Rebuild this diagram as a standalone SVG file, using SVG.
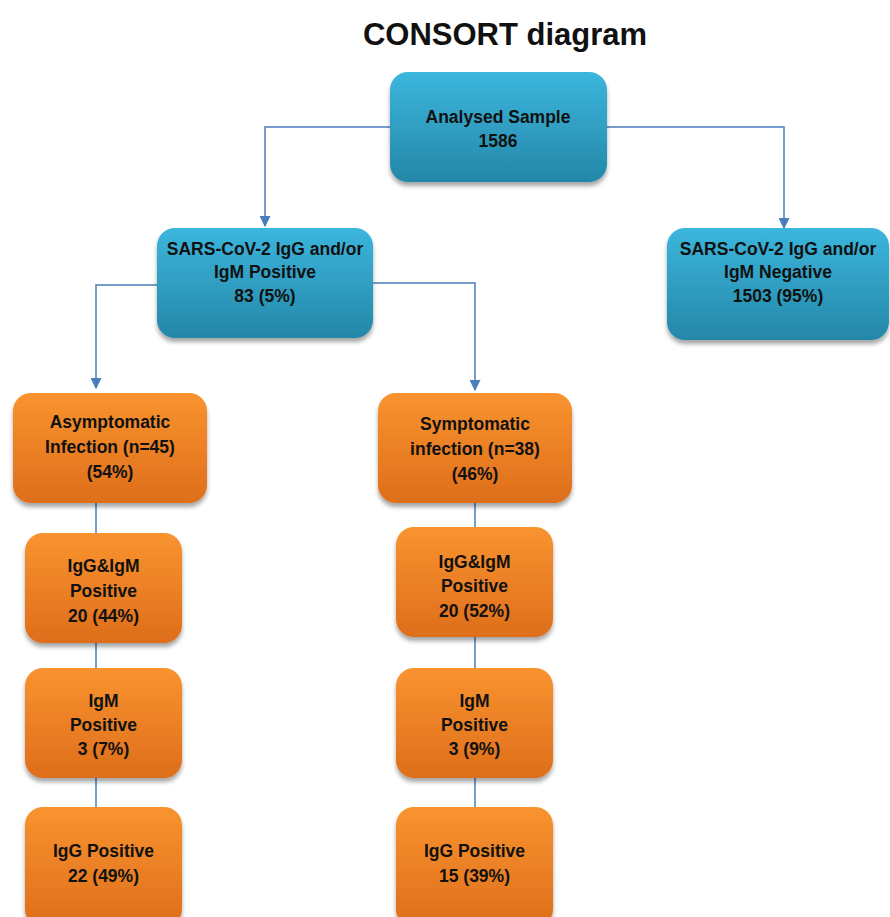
<svg xmlns="http://www.w3.org/2000/svg" width="890" height="917" viewBox="0 0 890 917">
<defs>
<linearGradient id="gb" x1="0" y1="0" x2="0" y2="1">
<stop offset="0" stop-color="#3CB6DD"/><stop offset="1" stop-color="#2487A8"/>
</linearGradient>
<linearGradient id="go" x1="0" y1="0" x2="0" y2="1">
<stop offset="0" stop-color="#F9932F"/><stop offset="1" stop-color="#DE6E1B"/>
</linearGradient>
<filter id="sh" x="-10%" y="-10%" width="120%" height="130%">
<feDropShadow dx="0" dy="4" stdDeviation="2" flood-color="#000" flood-opacity="0.35"/>
</filter>
<marker id="ar" viewBox="0 0 10 10" refX="9" refY="5" markerWidth="11" markerHeight="11" markerUnits="userSpaceOnUse" orient="auto">
<path d="M0,0 L10,5 L0,10 z" fill="#4A7EBB"/>
</marker>
<style>
.b{fill:url(#gb);filter:url(#sh)}
.o{fill:url(#go);filter:url(#sh)}
text{font-family:"Liberation Sans",Arial,sans-serif;font-weight:bold;font-size:17.5px;fill:#111;text-anchor:middle}
.t{font-size:31px}
.c{fill:none;stroke:#4A7EBB;stroke-width:1.5}
</style>
</defs>
<text class="t" x="505" y="45">CONSORT diagram</text>
<g id="connectors">
<path class="c" d="M390,127 H265 V226" marker-end="url(#ar)"/>
<path class="c" d="M607,127 H784 V228" marker-end="url(#ar)"/>
<path class="c" d="M157,285 H96 V388" marker-end="url(#ar)"/>
<path class="c" d="M373,283 H475 V390" marker-end="url(#ar)"/>
<path class="c" d="M96,503 V533 M96,643 V668 M96,778 V807"/>
<path class="c" d="M475,503 V527 M475,637 V668 M475,778 V807"/>
</g>
<g id="n1"><rect class="b" x="390" y="72" width="217" height="110" rx="18"/>
<text x="498" y="123">Analysed Sample</text><text x="498" y="147">1586</text></g>
<g id="n2"><rect class="b" x="157" y="228" width="216" height="110" rx="18"/>
<text x="265" y="255">SARS-CoV-2 IgG and/or</text><text x="265" y="278">IgM Positive</text><text x="265" y="302">83 (5%)</text></g>
<g id="n3"><rect class="b" x="667" y="228" width="222" height="112" rx="18"/>
<text x="778" y="255">SARS-CoV-2 IgG and/or</text><text x="778" y="278">IgM Negative</text><text x="778" y="302">1503 (95%)</text></g>
<g id="n4"><rect class="o" x="13" y="393" width="194" height="110" rx="18"/>
<text x="110" y="428">Asymptomatic</text><text x="110" y="453">Infection (n=45)</text><text x="110" y="478">(54%)</text></g>
<g id="n5"><rect class="o" x="378" y="393" width="194" height="110" rx="18"/>
<text x="475" y="430">Symptomatic</text><text x="475" y="455">infection (n=38)</text><text x="475" y="480">(46%)</text></g>
<g id="n6"><rect class="o" x="25" y="533" width="157" height="110" rx="18"/>
<text x="103.5" y="572">IgG&amp;IgM</text><text x="103.5" y="597">Positive</text><text x="103.5" y="622">20 (44%)</text></g>
<g id="n7"><rect class="o" x="25" y="668" width="157" height="110" rx="18"/>
<text x="103.5" y="707">IgM</text><text x="103.5" y="731">Positive</text><text x="103.5" y="755">3 (7%)</text></g>
<g id="n8"><rect class="o" x="25" y="807" width="157" height="120" rx="18"/>
<text x="103.5" y="857">IgG Positive</text><text x="103.5" y="882">22 (49%)</text></g>
<g id="n9"><rect class="o" x="396" y="527" width="157" height="110" rx="18"/>
<text x="474.5" y="568">IgG&amp;IgM</text><text x="474.5" y="592">Positive</text><text x="474.5" y="617">20 (52%)</text></g>
<g id="n10"><rect class="o" x="396" y="668" width="157" height="110" rx="18"/>
<text x="474.5" y="707">IgM</text><text x="474.5" y="731">Positive</text><text x="474.5" y="755">3 (9%)</text></g>
<g id="n11"><rect class="o" x="396" y="807" width="157" height="120" rx="18"/>
<text x="474.5" y="857">IgG Positive</text><text x="474.5" y="882">15 (39%)</text></g>
</svg>
